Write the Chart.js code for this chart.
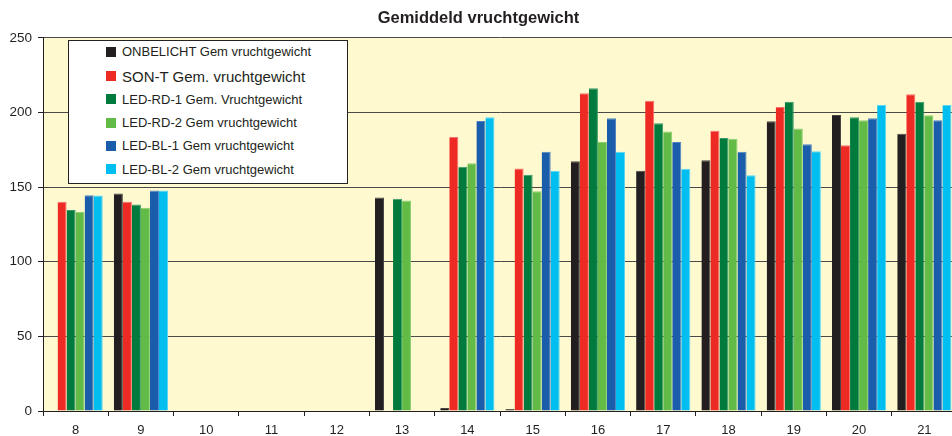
<!DOCTYPE html>
<html>
<head>
<meta charset="utf-8">
<script src="https://cdn.jsdelivr.net/npm/chart.js@4/dist/chart.umd.min.js"></script>
<style>
  html, body { margin: 0; padding: 0; background: #ffffff; overflow: hidden; }
  #wrap { position: relative; width: 960px; height: 436px; }
  #legend { position: absolute; left: 68px; top: 40px; width: 280px; height: 144px; box-sizing: border-box;
            background: #ffffff; border: 1px solid #222; font-family: "Liberation Sans", Arial, sans-serif; color: #231F20; }
  .row { position: absolute; left: 0; height: 20px; display: flex; align-items: center; white-space: nowrap; }
  .sw { width: 10px; height: 10px; margin-left: 37px; margin-right: 6px; }
</style>
</head>
<body>
<div id="wrap">
  <canvas id="c" width="960" height="436"></canvas>
  <div id="legend"></div>
</div>
<script>
// ---- data ----
const categories = ["8","9","10","11","12","13","14","15","16","17","18","19","20","21"];
const seriesNames = [
  "ONBELICHT Gem vruchtgewicht",
  "SON-T Gem. vruchtgewicht",
  "LED-RD-1 Gem. Vruchtgewicht",
  "LED-RD-2 Gem vruchtgewicht",
  "LED-BL-1 Gem vruchtgewicht",
  "LED-BL-2 Gem vruchtgewicht"
];
const onbelicht = [null, 145.7, null, null, null, 143.0, 2.0, 1.3, 167.3, 161.0, 168.0, 194.1, 198.3, 185.8];
const sonT      = [140.1, 140.1, null, null, null, null, 183.6, 162.4, 212.8, 207.9, 187.8, 203.7, 178.0, 212.2];
const ledRd1    = [134.7, 138.3, null, null, null, 142.1, 163.7, 158.2, 216.2, 192.8, 182.9, 207.2, 196.8, 207.2];
const ledRd2    = [133.4, 136.1, null, null, null, 141.0, 166.0, 147.2, 180.2, 187.2, 182.3, 189.2, 194.8, 198.1];
const ledBl1    = [144.6, 147.7, null, null, null, null, 194.3, 173.6, 196.1, 180.2, 173.6, 178.7, 196.1, 194.8];
const ledBl2    = [144.4, 147.7, null, null, null, null, 196.8, 160.8, 173.6, 162.2, 158.0, 174.0, 205.0, 205.0];
const yTicks = [0, 50, 100, 150, 200, 250];

const colors  = ["#231F20", "#EE2A24", "#007A3D", "#62BB46", "#1A5DAB", "#00BFF0"];
const borders = ["#4a4647", "#F6716C", "#3A9A68", "#8ACF74", "#4F84C2", "#5DD6F5"];
const legendFont = [13, 15, 13, 13, 13, 13];
const legendY = [51.7, 76, 99.3, 122.7, 145.7, 169.3];
const values = [onbelicht, sonT, ledRd1, ledRd2, ledBl1, ledBl2];

const FONT = "'Liberation Sans', Arial, sans-serif";

const plotBg = {
  id: 'plotBg',
  beforeDraw(chart) {
    const {ctx, chartArea: a} = chart;
    ctx.save();
    ctx.fillStyle = '#FFF9D0';
    ctx.fillRect(a.left, a.top, a.right - a.left, a.bottom - a.top);
    ctx.restore();
  }
};

new Chart(document.getElementById('c'), {
  type: 'bar',
  data: {
    labels: categories,
    datasets: values.map((v, i) => ({
      label: seriesNames[i],
      data: v,
      backgroundColor: colors[i],
      borderColor: borders[i],
      borderWidth: {top: 1, left: 0, right: 1, bottom: 0},
      borderSkipped: 'bottom',
      barPercentage: 1.0,
      categoryPercentage: 0.83
    }))
  },
  options: {
    responsive: false,
    animation: false,
    layout: { padding: { left: 0, right: 3, top: 0, bottom: 0 } },
    plugins: {
      legend: { display: false },
      tooltip: { enabled: false },
      title: {
        display: true,
        text: 'Gemiddeld vruchtgewicht',
        color: '#231F20',
        font: { family: FONT, size: 16.5, weight: 'bold', lineHeight: 1.2 },
        padding: { top: 9, bottom: 9 }
      }
    },
    scales: {
      x: {
        offset: true,
        grid: { display: true, offset: true, drawOnChartArea: false, drawTicks: true, tickLength: 5, color: '#231F20', tickColor: '#231F20' },
        border: { display: true, color: '#231F20', width: 1 },
        ticks: { color: '#231F20', padding: 7, font: { family: FONT, size: 13 }, maxRotation: 0, autoSkip: false },
        afterFit(s) { s.height = 25; }
      },
      y: {
        min: 0, max: 250,
        afterBuildTicks(s) { s.ticks = yTicks.map(v => ({ value: v })); },
        grid: { display: true, color: '#4a4a4a', lineWidth: 1, tickLength: 5, tickColor: '#231F20' },
        border: { display: true, color: '#231F20', width: 1 },
        ticks: { color: '#231F20', padding: 6, font: { family: FONT, size: 13.5 } },
        afterFit(s) { s.width = 43; }
      }
    }
  },
  plugins: [plotBg]
});

// legend overlay (real text)
const lg = document.getElementById('legend');
seriesNames.forEach((name, i) => {
  const row = document.createElement('div');
  row.className = 'row';
  row.style.top = (legendY[i] - 40 - 1 - 10) + 'px';
  row.style.fontSize = legendFont[i] + 'px';
  const sw = document.createElement('span');
  sw.className = 'sw';
  sw.style.background = colors[i];
  const t = document.createElement('span');
  t.textContent = name;
  row.appendChild(sw);
  row.appendChild(t);
  lg.appendChild(row);
});
</script>
</body>
</html>
